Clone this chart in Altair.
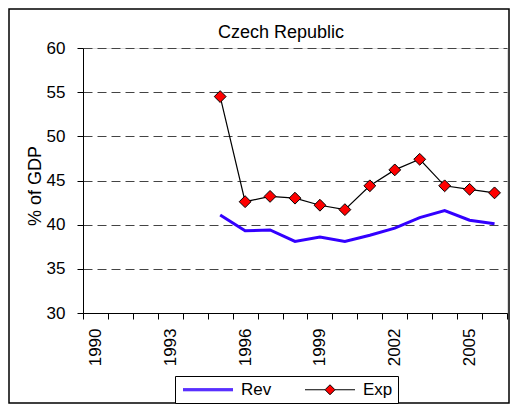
import altair as alt
import pandas as pd

# ---- data ----
years = [1995, 1996, 1997, 1998, 1999, 2000, 2001, 2002, 2003, 2004, 2005, 2006]
rev = [41.1, 39.3, 39.4, 38.1, 38.6, 38.1, 38.8, 39.6, 40.8, 41.6, 40.5, 40.1]
exp = [54.5, 42.6, 43.2, 43.0, 42.2, 41.7, 44.4, 46.2, 47.4, 44.4, 44.0, 43.6]
series_names = ["Rev", "Exp"]
chart_title = "Czech Republic"
y_title = "% of GDP"
x_first, x_last = 1990, 2006
y_ticks = [30, 35, 40, 45, 50, 55, 60]

rows = []
for name, vals in zip(series_names, [rev, exp]):
    for yr, v in zip(years, vals):
        rows.append({"year": yr, "value": v, "series": name})
df = pd.DataFrame(rows)

FONT = "Liberation Sans"
W, H = 424, 265
band = W / (x_last - x_first + 1)
boundaries = [x_first - 0.5 + i for i in range(x_last - x_first + 2)]

x_scale = alt.Scale(domain=[x_first - 0.5, x_last + 0.5], nice=False, zero=False)
y_scale = alt.Scale(domain=[30, 60], nice=False, zero=False)

x_axis = alt.Axis(
    values=boundaries, title=None, grid=False,
    labelExpr=f"((datum.value + 0.5) - {x_first}) % 3 == 0 && datum.value < {x_last} ? '' + (datum.value + 0.5) : ''",
    labelAngle=270, labelAlign="right", labelBaseline="middle",
    labelOffset=band / 2, labelPadding=9, labelFlush=False, labelOverlap=False,
    tickSize=6, tickColor="black", domainColor="black",
    labelFont=FONT, labelFontSize=17, labelColor="black",
)
y_axis = alt.Axis(
    values=y_ticks, title=y_title, grid=True,
    gridDash=[9, 5], gridColor="#444444", gridWidth=1,
    tickSize=6, tickColor="black", domainColor="black",
    labelFont=FONT, labelFontSize=17, labelColor="black", labelPadding=12,
    titleFont=FONT, titleFontSize=18, titleFontWeight="normal", titleColor="black",
    titleAngle=270, titleX=-43, titleY=H / 2 + 5, titleAlign="center",
    titleBaseline="alphabetic",
)

x_enc = alt.X("year:Q", scale=x_scale, axis=x_axis)
y_enc = alt.Y("value:Q", scale=y_scale, axis=y_axis)

base = alt.Chart(df)

lines = base.mark_line().encode(
    x=x_enc, y=y_enc,
    color=alt.condition(alt.datum.series == "Rev", alt.value("#3300ff"), alt.value("black")),
    strokeWidth=alt.condition(alt.datum.series == "Rev", alt.value(3), alt.value(1.2)),
    detail="series:N",
)

diamonds = base.transform_filter(alt.datum.series == "Exp").mark_point(
    shape="diamond", filled=True, fill="#ff0000", stroke="black", strokeWidth=1, size=140, opacity=1
).encode(x=x_enc, y=y_enc)

# legend symbols: unit = 5px, symbol centre sits ~5.5px into the entry
rev_path = "M-1.1,-0.2H8.9M-1.1,0H8.9M-1.1,0.2H8.9"
exp_path = "M-1.1,0H2.9M4.9,0H8.9M3.9,-1L4.9,0L3.9,1L2.9,0Z"
legend = alt.Legend(
    title=None, orient="none", legendX=92, legendY=328, direction="horizontal",
    strokeColor="black", fillColor="white", padding=5,
    symbolSize=100, symbolStrokeWidth=1, symbolFillColor="#ff0000", symbolOpacity=1,
    labelFont=FONT, labelFontSize=17, labelColor="black", labelOffset=44,
    columnPadding=30,
)
carrier = base.mark_point(opacity=0, filled=True, fill="#ff0000").encode(
    x=x_enc, y=y_enc,
    stroke=alt.Stroke("series:N", scale=alt.Scale(domain=series_names, range=["#3300ff", "black"]), legend=legend),
    shape=alt.Shape("series:N", scale=alt.Scale(domain=series_names, range=[rev_path, exp_path]), legend=legend),
)

frame = alt.Chart(pd.DataFrame({"k": [0]})).mark_rect(
    fillOpacity=0, stroke="black", strokeWidth=1.5
).encode(x=alt.value(-74), x2=alt.value(426), y=alt.value(-39), y2=alt.value(355))

chart = alt.layer(frame, lines, diamonds, carrier).properties(
    width=W, height=H,
    title=alt.TitleParams(chart_title, font=FONT, fontSize=18, fontWeight="normal", color="black",
                          anchor="middle", frame="group", baseline="alphabetic", offset=-48, dx=-14),
    autosize=alt.AutoSizeParams(type="none"),
    padding={"left": 75, "top": 40, "right": 4, "bottom": 91},
).configure_view(stroke="#808080", strokeWidth=1.5).configure(background="white")

chart.save("out.html", embed_options={"renderer": "svg", "actions": False})
